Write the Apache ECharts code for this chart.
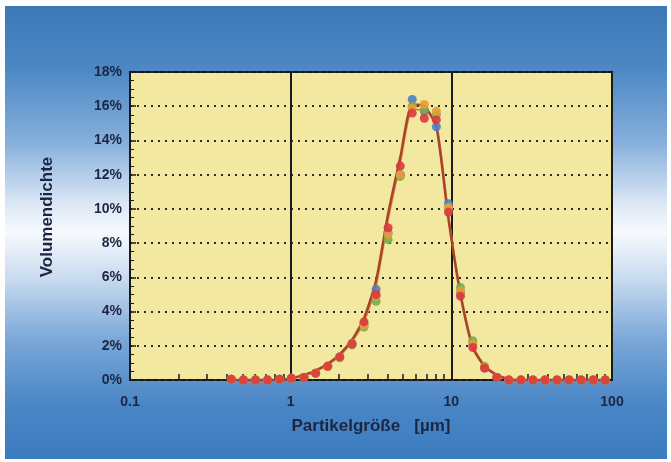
<!DOCTYPE html>
<html>
<head>
    <meta charset="utf-8">
    <title>Partikelgrößenverteilung</title>
</head>
<style>
    body {
        margin: 0;
        background: #fff;
    }

    .bg {
        position: absolute;
        left: 5px;
        top: 6px;
        width: 662px;
        height: 453px;
        background: linear-gradient(to bottom, #3a78b6 0%, #4d88c4 14%, #86afdc 30%, #dde8f5 44%, #f6f9fd 50%, #c9dbef 60%, #79a6d8 74%, #4a86c6 88%, #3b7bbf 100%);
    }

    #main {
        position: absolute;
        left: 0;
        top: 0;
        width: 671px;
        height: 462px;
    }
</style>
<body>
<div class="bg"></div>
<div id="main"></div>

<script type="text/javascript" src="https://cdn.jsdelivr.net/npm/echarts@6/dist/echarts.min.js"></script>
<script type="text/javascript">

    // Partikelgröße [µm] der Messklassen
    var sizes = [0.427, 0.508, 0.604, 0.718, 0.853, 1.01, 1.21, 1.43, 1.70, 2.02, 2.41, 2.86, 3.40, 4.04, 4.81, 5.71,
        6.79, 8.07, 9.60, 11.4, 13.6, 16.1, 19.2, 22.8, 27.1, 32.2, 38.3, 45.5, 54.1, 64.3, 76.4, 90.8];

    // Volumendichte [%] je Messung
    var blueVals = [0.05, 0, 0, 0, 0.05, 0.1, 0.15, 0.4, 0.8, 1.35, 2.15, 3.3, 5.3, 8.6, 12.0, 16.4,
        15.7, 14.8, 10.3, 5.1, 2.1, 0.7, 0.15, 0, 0, 0, 0, 0, 0, 0, 0, 0];
    var greenVals = [0.05, 0, 0, 0, 0.05, 0.1, 0.15, 0.4, 0.8, 1.3, 2.05, 3.1, 4.6, 8.2, 11.9, 16.0,
        15.8, 15.5, 10.0, 5.4, 2.3, 0.8, 0.15, 0, 0, 0, 0, 0, 0, 0, 0, 0];
    var orangeVals = [0.05, 0, 0, 0, 0.05, 0.1, 0.15, 0.4, 0.8, 1.35, 2.1, 3.2, 4.9, 8.5, 12.0, 15.9,
        16.1, 15.7, 10.1, 5.2, 2.1, 0.75, 0.15, 0, 0, 0, 0, 0, 0, 0, 0, 0];
    var redVals = [0.05, 0, 0, 0, 0.05, 0.1, 0.15, 0.4, 0.8, 1.35, 2.1, 3.4, 5.0, 8.9, 12.5, 15.6,
        15.3, 15.2, 9.8, 4.9, 1.9, 0.7, 0.15, 0, 0, 0, 0, 0, 0, 0, 0, 0];

    // Ausgleichskurven
    var fitVals = [0, 0, 0, 0, 0, 0.1, 0.3, 0.55, 0.95, 1.5, 2.35, 3.6, 5.8, 9.7, 13.0, 16.1,
        16.0, 14.8, 9.4, 5.0, 1.9, 0.8, 0.3, 0.05, 0, 0, 0, 0, 0, 0, 0, 0];
    var fit2Vals = [0, 0, 0, 0, 0, 0.1, 0.25, 0.5, 0.9, 1.4, 2.25, 3.4, 5.5, 9.4, 12.7, 15.8,
        15.8, 15.0, 9.6, 5.1, 2.0, 0.85, 0.3, 0.05, 0, 0, 0, 0, 0, 0, 0, 0];

    var xLabels = ['0.1', '1', '10', '100'];
    var minorTicks = [0.2, 0.3, 0.4, 0.5, 0.6, 0.7, 0.8, 0.9, 2, 3, 4, 5, 6, 7, 8, 9, 20, 30, 40, 50, 60, 70, 80, 90];

    function pairs(vals) {
        return sizes.map(function (s, i) {
            return [s, vals[i]];
        });
    }

    function dots(name, color, vals) {
        return {
            name: name,
            type: 'scatter',
            symbolSize: 9,
            itemStyle: {color: color, opacity: 0.9},
            data: pairs(vals),
            z: 3
        };
    }

    var chart = echarts.init(document.getElementById('main'));

    var textColor = '#1c2642';

    chart.setOption({
        animation: false,
        backgroundColor: 'transparent',
        grid: {
            left: 130,
            right: 59,
            top: 72,
            bottom: 82,
            show: true,
            backgroundColor: '#f3e8a0',
            borderColor: '#151515',
            borderWidth: 2
        },
        xAxis: [{
            type: 'log',
            logBase: 10,
            min: 0.1,
            max: 100,
            name: 'Partikelgröße   [µm]',
            nameLocation: 'middle',
            nameGap: 38,
            nameTextStyle: {
                fontFamily: 'Liberation Sans',
                fontWeight: 'bold',
                fontSize: 17,
                color: textColor
            },
            axisLine: {show: false},
            axisTick: {show: false},
            axisLabel: {
                margin: 15,
                fontFamily: 'Liberation Sans',
                fontWeight: 'bold',
                fontSize: 14,
                color: textColor,
                formatter: function (v) {
                    var idx = [0.1, 1, 10, 100].indexOf(+v.toPrecision(3));
                    return idx >= 0 ? xLabels[idx] : '';
                }
            },
            splitLine: {
                show: true,
                lineStyle: {color: '#1a1a1a', width: 2}
            }
        }, {
            // nur die kleinen Teilstriche der log-Achse
            type: 'log',
            logBase: 10,
            min: 0.1,
            max: 100,
            position: 'bottom',
            axisLine: {show: false},
            axisLabel: {show: false},
            splitLine: {show: false},
            axisTick: {
                show: true,
                inside: true,
                length: 6,
                customValues: minorTicks,
                lineStyle: {color: '#1a1a1a', width: 1.5}
            }
        }],
        yAxis: {
            type: 'value',
            min: 0,
            max: 18,
            interval: 2,
            name: 'Volumendichte',
            nameLocation: 'middle',
            nameGap: 74,
            nameTextStyle: {
                fontFamily: 'Liberation Sans',
                fontWeight: 'bold',
                fontSize: 17,
                color: textColor,
                padding: [0, 0, 0, 18]
            },
            axisLine: {show: false},
            axisTick: {
                show: true,
                inside: true,
                length: 6,
                lineStyle: {color: '#1a1a1a', width: 1.5}
            },
            minorTick: {
                show: true,
                splitNumber: 4,
                length: 4,
                lineStyle: {color: '#1a1a1a', width: 1}
            },
            axisLabel: {
                margin: 8,
                fontFamily: 'Liberation Sans',
                fontWeight: 'bold',
                fontSize: 14,
                color: textColor,
                formatter: '{value}%'
            },
            splitLine: {
                show: true,
                lineStyle: {color: '#2a2a2a', width: 2, type: [2, 5]}
            }
        },
        series: [
            {
                name: 'Kurve 2',
                type: 'line',
                smooth: 0.2,
                symbol: 'none',
                lineStyle: {color: '#e08a3c', width: 2},
                data: pairs(fit2Vals),
                z: 2
            },
            {
                name: 'Kurve',
                type: 'line',
                smooth: 0.2,
                symbol: 'none',
                lineStyle: {color: '#a8432c', width: 2.5},
                data: pairs(fitVals),
                z: 2
            },
            dots('Messung 1', '#4f7fc4', blueVals),
            dots('Messung 2', '#6fae4f', greenVals),
            dots('Messung 3', '#eb9a3a', orangeVals),
            dots('Messung 4', '#dc3b3b', redVals)
        ]
    });
</script>
</body>
</html>
